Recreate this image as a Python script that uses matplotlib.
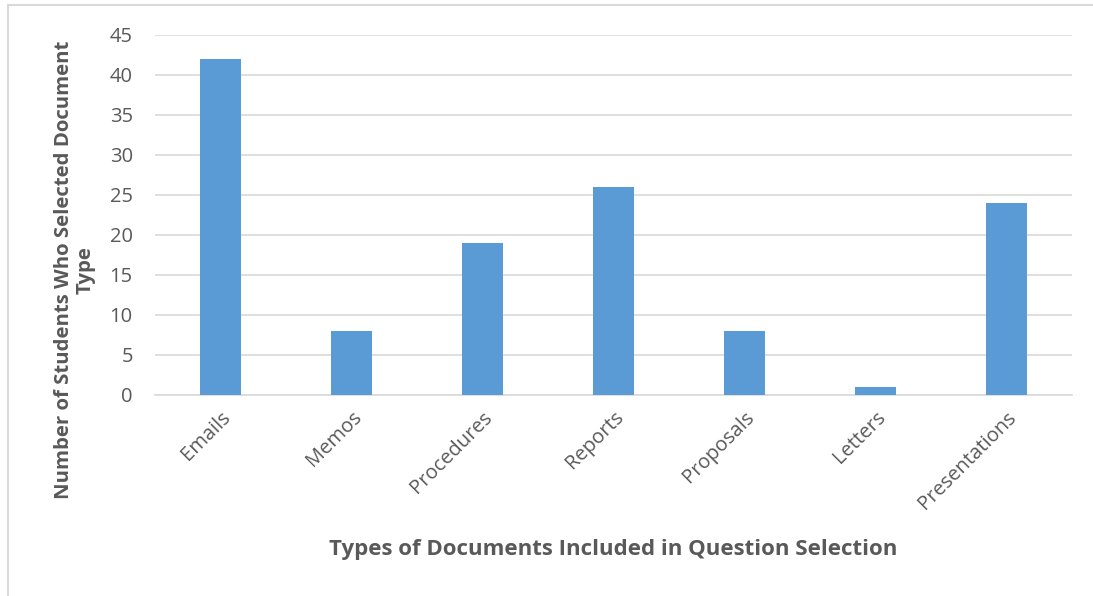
import matplotlib
matplotlib.use("Agg")
import matplotlib.pyplot as plt
from matplotlib.lines import Line2D

categories = ["Emails", "Memos", "Procedures", "Reports", "Proposals", "Letters", "Presentations"]
values = [42, 8, 19, 26, 8, 1, 24]
yticks = [0, 5, 10, 15, 20, 25, 30, 35, 40, 45]

plt.rcParams['font.family'] = ['Open Sans', 'DejaVu Sans']
gray = "#595959"
W, H = 1093, 596

fig = plt.figure(figsize=(W/100, H/100), dpi=100)
# outer chart border (left and top visible in reference)
fig.lines.append(Line2D([8/W, 8/W], [0, 1 - 5/H], transform=fig.transFigure, color="#d9d9d9", linewidth=1.5))
fig.lines.append(Line2D([8/W, 1], [1 - 5/H, 1 - 5/H], transform=fig.transFigure, color="#d9d9d9", linewidth=1.5))

ax = fig.add_axes([155/W, 1 - 395/H, (1072-155)/W, (395-35)/H])
x = range(len(categories))
ax.bar(x, values, width=0.31, color="#5b9bd5", zorder=3)
ax.set_xlim(-0.5, len(categories) - 0.5)
ax.set_ylim(0, 45)
ax.set_yticks(yticks)
ax.set_xticks(list(x))
ax.set_xticklabels(categories, rotation=45, ha="right", rotation_mode="anchor")
ax.tick_params(axis="both", length=0, labelsize=14.5, labelcolor=gray)
ax.tick_params(axis="y", pad=16)
ax.tick_params(axis="x", pad=9)
ax.grid(axis="y", color="#d9d9d9", linewidth=1.2, zorder=0)
for s in ["top", "right", "left"]:
    ax.spines[s].set_visible(False)
ax.spines["bottom"].set_color("#d9d9d9")
ax.spines["bottom"].set_linewidth(1.2)

fig.text(613/W, 1 - 550/H, "Types of Documents Included in Question Selection", fontsize=16,
         fontweight="bold", color=gray, ha="center", va="center")
fig.text(75/W, 1 - 270/H, "Number of Students Who Selected Document\nType", fontsize=14.7,
         fontweight="bold", color=gray, ha="center", va="center", rotation=90,
         multialignment="center", linespacing=1.1)
fig.savefig("out.png", dpi=100)
